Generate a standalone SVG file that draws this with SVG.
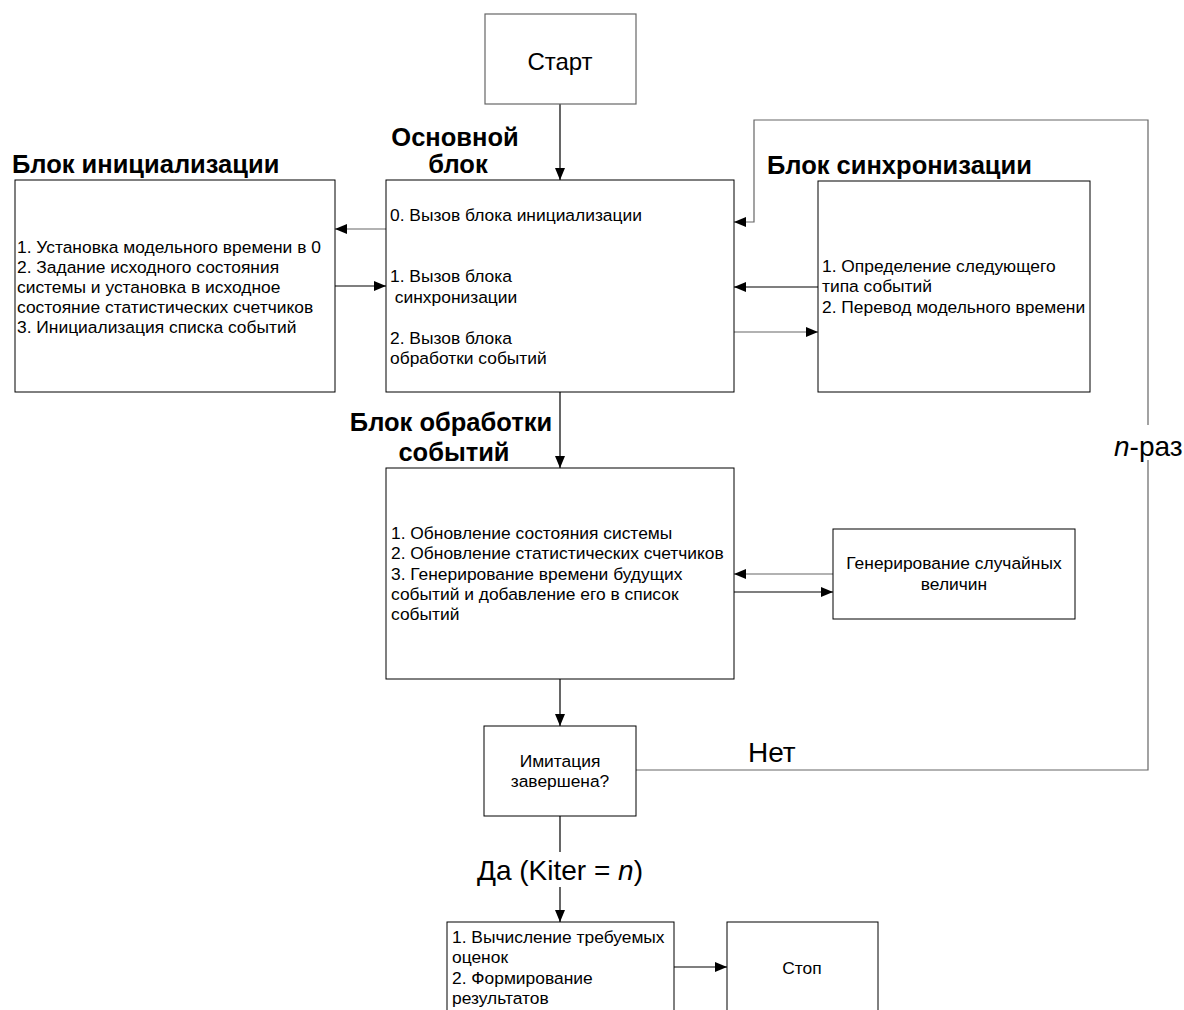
<svg xmlns="http://www.w3.org/2000/svg" width="1184" height="1010" viewBox="0 0 1184 1010">
<defs>
<marker id="ah" viewBox="0 0 12 10" refX="12" refY="5" markerWidth="12" markerHeight="10" markerUnits="userSpaceOnUse" orient="auto">
<path d="M0,0 L12,5 L0,10 z" fill="#000"/>
</marker>
<style>
.box{fill:#fff;stroke:#000;stroke-width:1}
.gbox{fill:#fff;stroke:#666;stroke-width:1.2}
.ln{fill:none;stroke:#000;stroke-width:1.2}
.gl{fill:none;stroke:#666;stroke-width:1.2}
.t{font-family:"Liberation Sans",Arial,sans-serif;font-size:17.4px;fill:#000}
.tc{font-family:"Liberation Sans",Arial,sans-serif;font-size:17.4px;fill:#000;text-anchor:middle}
.h{font-family:"Liberation Sans",Arial,sans-serif;font-size:25.5px;font-weight:bold;fill:#000}
.big{font-family:"Liberation Sans",Arial,sans-serif;font-size:28px;fill:#000}
</style>
</defs>
<rect width="1184" height="1010" fill="#fff"/>

<g id="connectors">
<path class="ln" d="M560,104 V180" marker-end="url(#ah)"/>
<path class="gl" d="M386,229 H335" marker-end="url(#ah)"/>
<path class="ln" d="M335,286 H386" marker-end="url(#ah)"/>
<path class="ln" d="M818,287 H734" marker-end="url(#ah)"/>
<path class="gl" d="M734,332 H818" marker-end="url(#ah)"/>
<path class="ln" d="M560,392 V468" marker-end="url(#ah)"/>
<path class="gl" d="M833,574 H734" marker-end="url(#ah)"/>
<path class="ln" d="M734,592 H833" marker-end="url(#ah)"/>
<path class="ln" d="M560,679 V726" marker-end="url(#ah)"/>
<path class="gl" d="M636,770 H1148 V460"/>
<path class="gl" d="M1148,425 V120 H754 V222 H734" marker-end="url(#ah)"/>
<path class="ln" d="M560,816 V852"/>
<path class="ln" d="M560,887 V922" marker-end="url(#ah)"/>
<path class="ln" d="M674,967 H727" marker-end="url(#ah)"/>
<text class="big" x="748" y="762">Нет</text>
<text class="big" x="560" y="880" text-anchor="middle">Да (Kiter = <tspan font-style="italic">n</tspan>)</text>
<text class="big" x="1114" y="456"><tspan font-style="italic">n</tspan>-раз</text>
</g>

<g id="start">
<rect class="gbox" x="485" y="14" width="151" height="90"/>
<text class="tc" x="560" y="70" style="font-size:24px">Старт</text>
</g>

<g id="main">
<text class="h" x="455" y="146" text-anchor="middle">Основной</text>
<text class="h" x="458" y="173" text-anchor="middle">блок</text>
<rect class="box" x="386" y="180" width="348" height="212"/>
<text class="t" x="390" y="221">0. Вызов блока инициализации</text>
<text class="t" x="390" y="282">1. Вызов блока</text>
<text class="t" x="390" y="303" xml:space="preserve"> синхронизации</text>
<text class="t" x="390" y="344">2. Вызов блока</text>
<text class="t" x="390" y="364">обработки событий</text>
</g>

<g id="init">
<text class="h" x="12" y="173">Блок инициализации</text>
<rect class="box" x="15" y="180" width="320" height="212"/>
<text class="t" x="17" y="253">1. Установка модельного времени в 0</text>
<text class="t" x="17" y="273">2. Задание исходного состояния</text>
<text class="t" x="17" y="293">системы и установка в исходное</text>
<text class="t" x="17" y="313">состояние статистических счетчиков</text>
<text class="t" x="17" y="333">3. Инициализация списка событий</text>
</g>

<g id="sync">
<text class="h" x="767" y="174">Блок синхронизации</text>
<rect class="box" x="818" y="181" width="272" height="211"/>
<text class="t" x="822" y="272">1. Определение следующего</text>
<text class="t" x="822" y="292">типа событий</text>
<text class="t" x="822" y="313">2. Перевод модельного времени</text>
</g>

<g id="events">
<text class="h" x="451" y="431" text-anchor="middle">Блок обработки</text>
<text class="h" x="454" y="461" text-anchor="middle">событий</text>
<rect class="box" x="386" y="468" width="348" height="211"/>
<text class="t" x="391" y="539">1. Обновление состояния системы</text>
<text class="t" x="391" y="559">2. Обновление статистических счетчиков</text>
<text class="t" x="391" y="580">3. Генерирование времени будущих</text>
<text class="t" x="391" y="600">событий и добавление его в список</text>
<text class="t" x="391" y="620">событий</text>
</g>

<g id="random">
<rect class="box" x="833" y="529" width="242" height="90"/>
<text class="tc" x="954" y="569">Генерирование случайных</text>
<text class="tc" x="954" y="590">величин</text>
</g>

<g id="decision">
<rect class="box" x="484" y="726" width="152" height="90"/>
<text class="tc" x="560" y="767">Имитация</text>
<text class="tc" x="560" y="787">завершена?</text>
</g>

<g id="results">
<rect class="box" x="447" y="922" width="227" height="100"/>
<text class="t" x="452" y="943">1. Вычисление требуемых</text>
<text class="t" x="452" y="963">оценок</text>
<text class="t" x="452" y="984">2. Формирование</text>
<text class="t" x="452" y="1004">результатов</text>
</g>

<g id="stop">
<rect class="box" x="727" y="922" width="151" height="100"/>
<text class="tc" x="802" y="974">Стоп</text>
</g>
</svg>
